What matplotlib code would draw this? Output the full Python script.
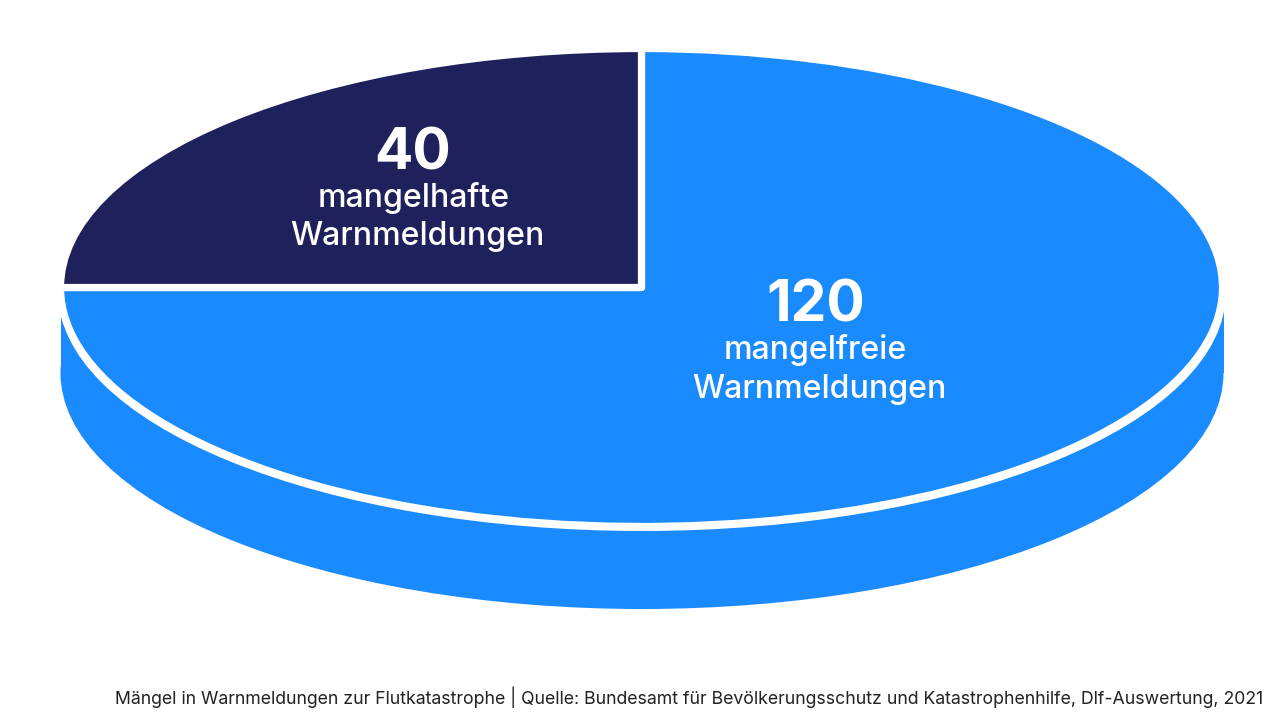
import matplotlib
matplotlib.use('Agg')
import matplotlib.pyplot as plt
from matplotlib.patches import Ellipse, Rectangle

# Werte aus der Grafik
werte = [120, 40]
zahlen = ['120', '40']
zeile1 = ['mangelfreie', 'mangelhafte']
zeile2 = ['Warnmeldungen', 'Warnmeldungen']
farben = ['#1A8AFF', '#1F215C']
quelle = 'Mängel in Warnmeldungen zur Flutkatastrophe | Quelle: Bundesamt für Bevölkerungsschutz und Katastrophenhilfe, Dlf-Auswertung, 2021'

W, H = 1280, 720
blau = farben[0]
plt.rcParams['font.family'] = ['Inter', 'DejaVu Sans']

fig = plt.figure(figsize=(W/100, H/100), dpi=100, facecolor='white')

# untere Achse in Pixeln, y nach unten wie im Bild
ax = fig.add_axes([0, 0, 1, 1])
ax.set_xlim(0, W)
ax.set_ylim(H, 0)
ax.axis('off')

# Sockel
ax.add_patch(Ellipse((642, 373), 1163, 472, fc=blau, ec='none'))
ax.add_patch(Rectangle((60.5, 300), 1163, 73, fc=blau, ec='none'))
# weisser Ring
ax.add_patch(Ellipse((642, 292), 1168, 478, fc='white', ec='none'))

# Kreis oben, elliptisch durch die Achse
cx, cy, rx, ry = 641.5, 287.5, 581, 239
ax2 = fig.add_axes([(cx-rx)/W, 1-(cy+ry)/H, 2*rx/W, 2*ry/H])
ax2.pie(werte, colors=farben, startangle=90, counterclock=False, radius=1,
        wedgeprops={'edgecolor': 'white', 'linewidth': 5.2, 'joinstyle': 'round'})
ax2.set_aspect('auto')
ax2.set_xlim(-1, 1)
ax2.set_ylim(-1, 1)

# Beschriftung
zahl_pos = [(815.5, 307), (413, 154)]
zeile1_pos = [(815.5, 359.5), (413.5, 206.5)]
zeile2_pos = [(819, 398), (417, 245)]
for i in range(len(zahlen)):
    ax2.text(zahl_pos[i][0], zahl_pos[i][1], zahlen[i], transform=ax.transData, color='white',
             fontsize=41, fontweight='bold', ha='center', va='center')
    ax2.text(zeile1_pos[i][0], zeile1_pos[i][1], zeile1[i], transform=ax.transData, color='white',
             fontsize=23.1, fontweight='medium', ha='center', va='baseline')
    ax2.text(zeile2_pos[i][0], zeile2_pos[i][1], zeile2[i], transform=ax.transData, color='white',
             fontsize=23.1, fontweight='medium', ha='center', va='baseline')

ax2.text(1263, 697, quelle, transform=ax.transData, color='#222222', fontsize=12.72,
         ha='right', va='center')

fig.savefig('out.png', dpi=100)
